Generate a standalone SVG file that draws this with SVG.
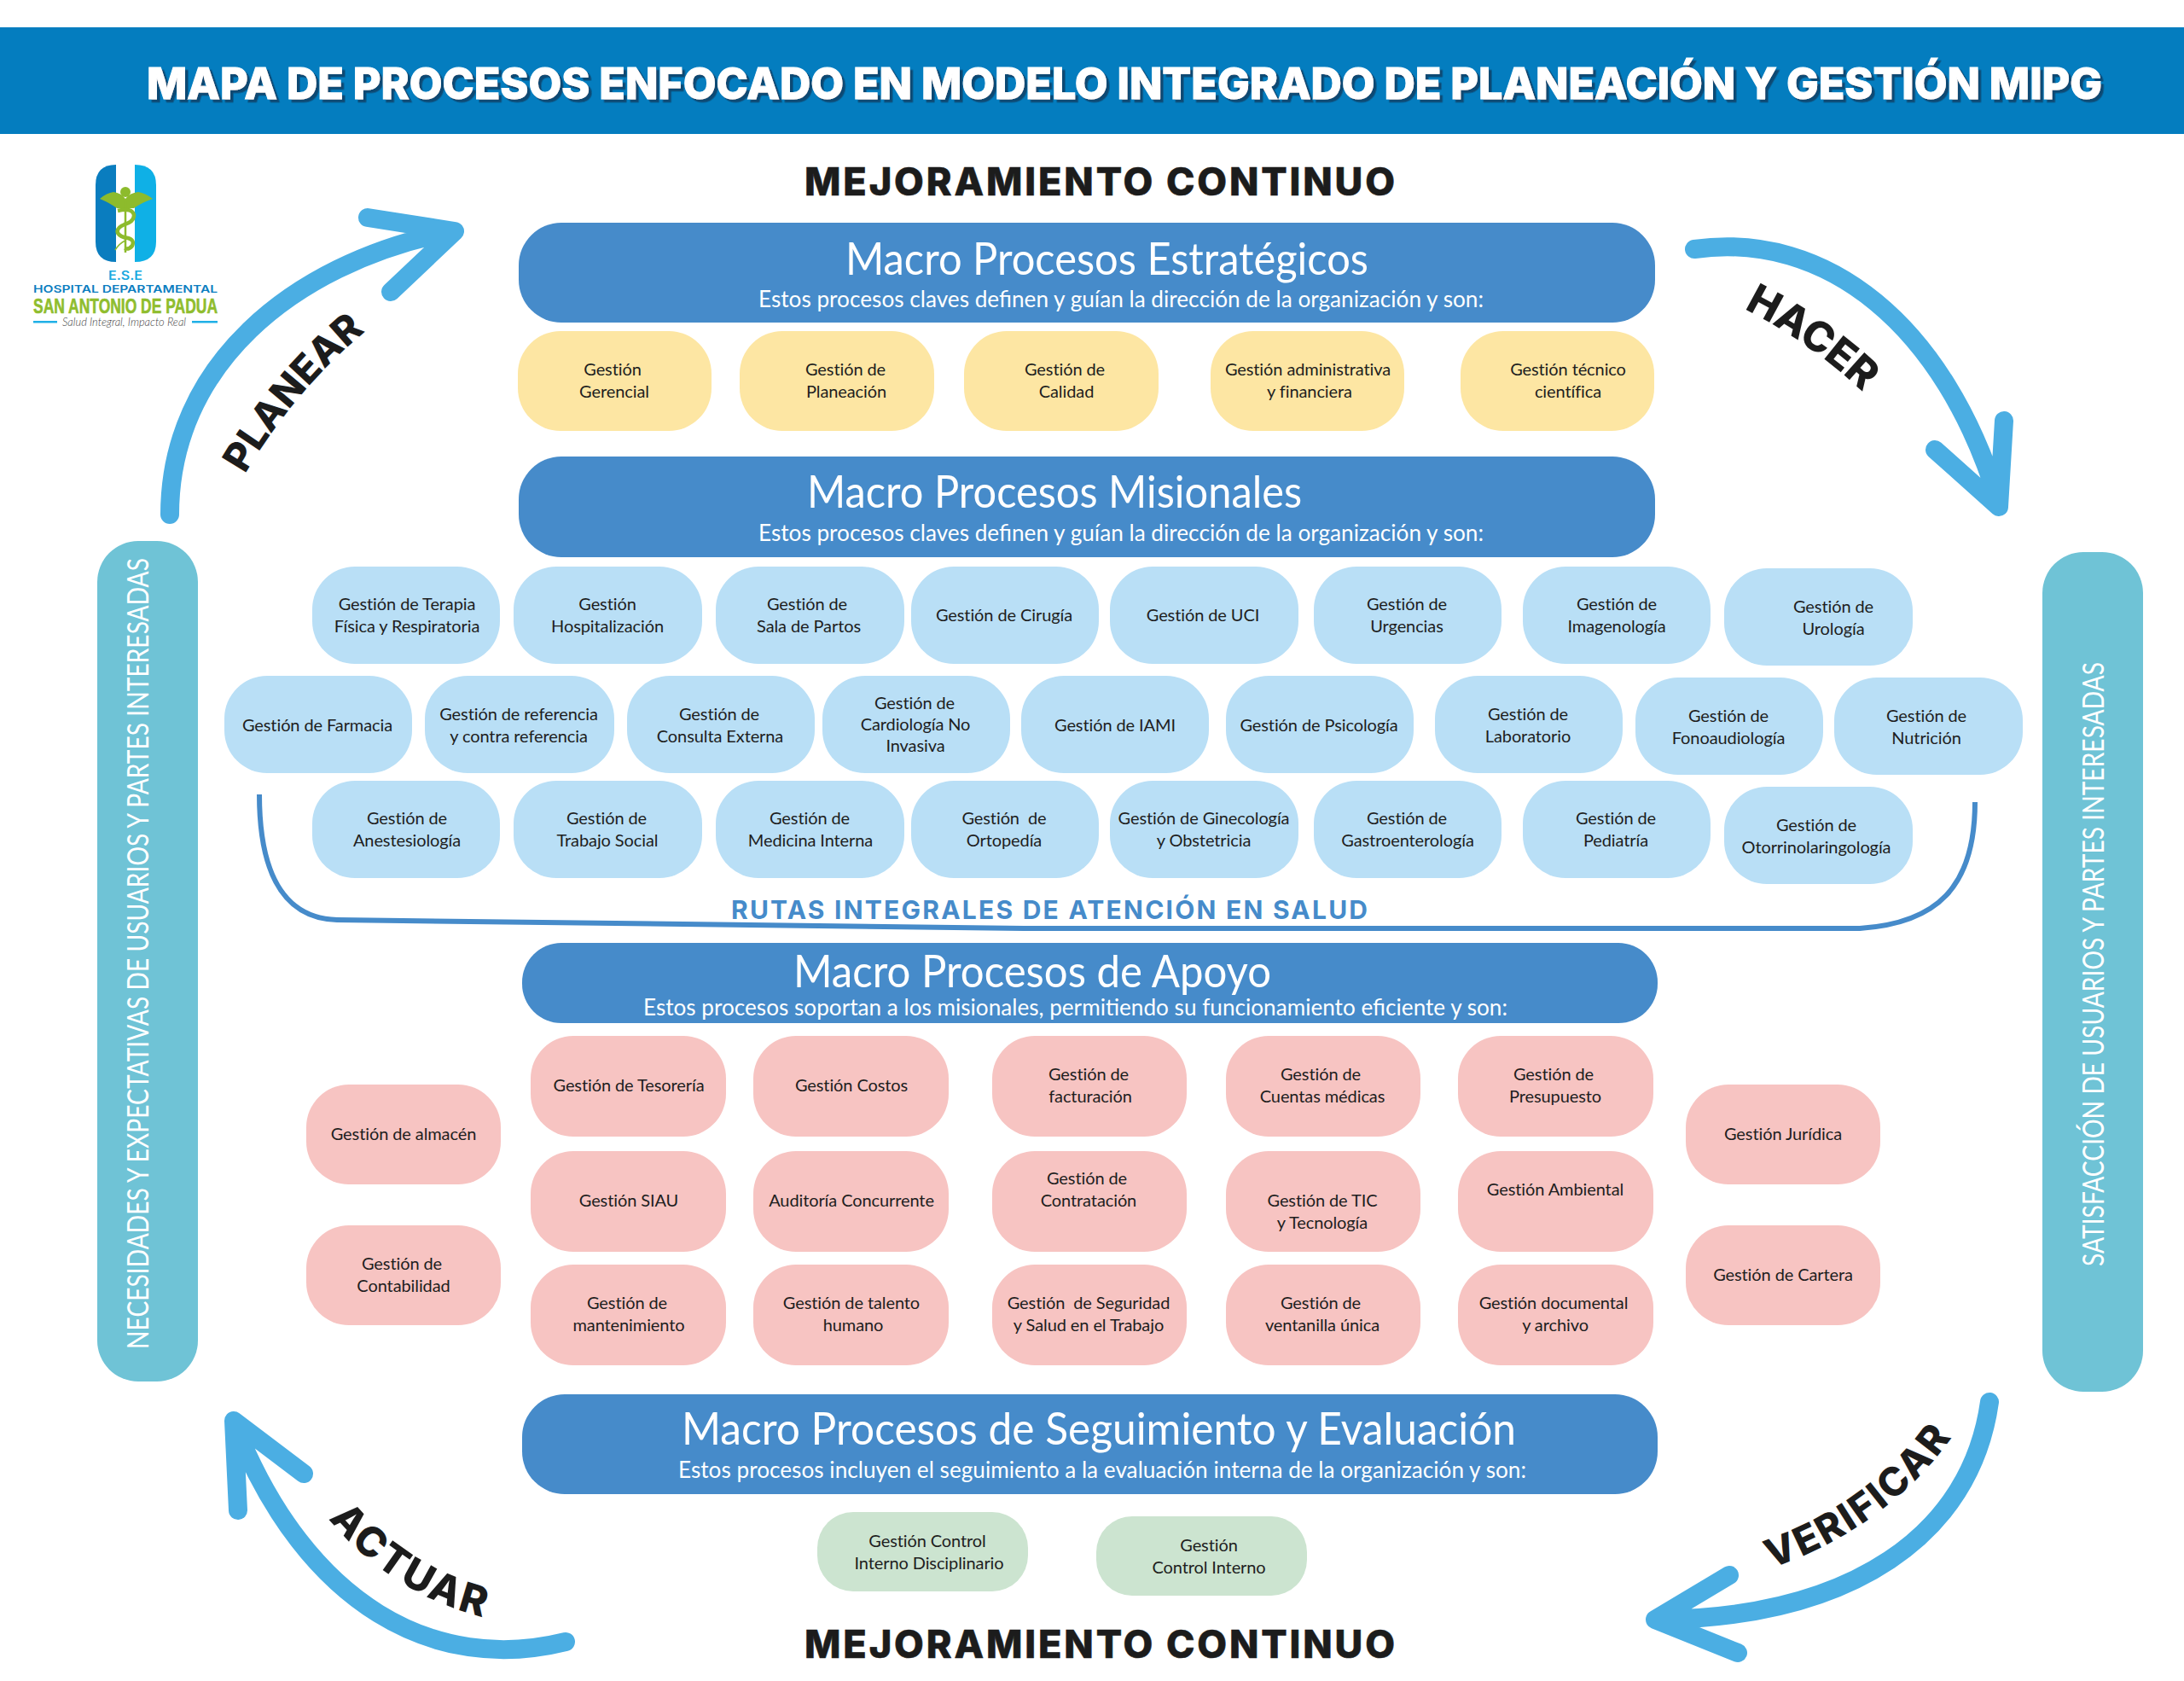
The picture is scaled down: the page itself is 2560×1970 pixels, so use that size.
<svg xmlns="http://www.w3.org/2000/svg" width="2560" height="1970" viewBox="0 0 2560 1970">
<style>
text{white-space:pre}
.n{font-family:"Lato","Open Sans",sans-serif;font-size:20px;letter-spacing:-.1px;fill:#1e1e1e;text-anchor:middle;transform:translateY(.5px)}
.y{fill:#fde6a3}.b{fill:#b9dff6}.p{fill:#f7c4c2}.g{fill:#cce4d0}
.m{fill:#468bca}.s{fill:#6fc3d6}
.mt{font-family:"Lato","Open Sans",sans-serif;font-size:52px;fill:#fff;transform:translateY(2px)}
.ms{font-family:"Lato","Open Sans",sans-serif;font-size:27px;fill:#fff;transform:translateY(.5px)}
.st{font-family:"Lato","Open Sans",sans-serif;font-size:34px;fill:#fff}
.mc{font-family:"Inter","Liberation Sans",sans-serif;font-weight:800;font-size:45px;fill:#1c1c1c;stroke:#1c1c1c;stroke-width:.6}
.lb{font-family:"Inter","Liberation Sans",sans-serif;font-weight:800;fill:#1c1c1c}
.ar{fill:none;stroke:#4baee3;stroke-width:22;stroke-linecap:round;stroke-linejoin:round}
</style>
<defs>
<filter id="sh" x="-2%" y="-20%" width="104%" height="140%"><feDropShadow dx="3.5" dy="3.5" stdDeviation="0" flood-color="#0d4a73"/></filter>
<path id="pP" d="M287 556Q342 462 424 392"/>
<path id="pH" d="M2044 362Q2120 400 2182 458"/>
<path id="pV" d="M2076 1838Q2214 1790 2291 1680"/>
<path id="pA" d="M385 1780Q460 1870 574 1897"/>
</defs>
<rect width="2560" height="1970" fill="#fff"/>
<g id="header">
<rect x="0" y="32" width="2560" height="125" fill="#047dbf"/>
<text x="172" y="116" font-family="Inter,'Liberation Sans',sans-serif" font-weight="800" font-size="51" fill="#fff" stroke="#fff" stroke-width="1" filter="url(#sh)" textLength="2292" lengthAdjust="spacingAndGlyphs">MAPA DE PROCESOS ENFOCADO EN MODELO INTEGRADO DE PLANEACIÓN Y GESTIÓN MIPG</text>
</g>
<g id="logo">
<path d="M136 193Q112 193 112 217V283Q112 307 136 307Z" fill="#0a7dbf"/>
<path d="M158 193Q183 193 183 217V283Q183 307 158 307Z" fill="#0fb0e6"/>
<circle cx="147" cy="225" r="6" fill="#8dbb2c"/>
<path d="M117 233Q125 226 133 225Q142 226 147 233Q152 226 162 225Q170 226 179 233Q165 238 157 244H137Q129 238 117 233Z" fill="#8dbb2c"/>
<path d="M147 236V296" stroke="#8dbb2c" stroke-width="2.5" fill="none"/>
<path d="M138 247Q155 243 157 252Q157 260 146 263Q136 267 138 273Q141 278 150 279Q158 281 155 288Q151 293 146 291" stroke="#8dbb2c" stroke-width="4.5" fill="none"/>
<path d="M135 293Q140 285 147 282" stroke="#8dbb2c" stroke-width="1.5" fill="none"/>
<text x="127" y="328" font-family="Inter,'Liberation Sans',sans-serif" font-weight="600" font-size="14" fill="#17a8df" textLength="40" lengthAdjust="spacingAndGlyphs">E.S.E</text>
<text x="39" y="343" font-family="Inter,'Liberation Sans',sans-serif" font-weight="600" font-size="12" fill="#0b7dc0" textLength="216" lengthAdjust="spacingAndGlyphs">HOSPITAL DEPARTAMENTAL</text>
<text x="39" y="367" font-family="'Liberation Sans',sans-serif" font-weight="700" font-size="24" fill="#8fbd2e" stroke="#8fbd2e" stroke-width=".6" textLength="216" lengthAdjust="spacingAndGlyphs">SAN ANTONIO DE PADUA</text>
<rect x="39" y="376" width="28" height="2.5" fill="#1fb0e6"/><rect x="225" y="376" width="30" height="2.5" fill="#1fb0e6"/>
<text x="73" y="382" font-family="Lato,sans-serif" font-style="italic" font-weight="300" font-size="14" fill="#444" textLength="145" lengthAdjust="spacingAndGlyphs">Salud Integral, Impacto Real</text>
</g>
<text id="mej1" class="mc" x="943" y="229" textLength="692" lengthAdjust="spacing">MEJORAMIENTO CONTINUO</text>
<text id="mej2" class="mc" x="943" y="1943" textLength="692" lengthAdjust="spacing">MEJORAMIENTO CONTINUO</text>

<g id="macro-estrategicos"><rect class="m" x="608" y="261" width="1332" height="117" rx="50"/>
<text class="mt" x="991" y="320" textLength="613" lengthAdjust="spacingAndGlyphs">Macro Procesos Estratégicos</text>
<text class="ms" x="889" y="359" textLength="850" lengthAdjust="spacingAndGlyphs">Estos procesos claves definen y guían la dirección de la organización y son:</text></g>
<g id="y1"><rect class="y" x="607" y="388" width="227" height="117" rx="50"/><text class="n" x="718" y="439">Gestión</text><text class="n" x="720" y="465">Gerencial</text></g>
<g id="y2"><rect class="y" x="867" y="388" width="228" height="117" rx="50"/><text class="n" x="991" y="439">Gestión de</text><text class="n" x="992" y="465">Planeación</text></g>
<g id="y3"><rect class="y" x="1130" y="388" width="228" height="117" rx="50"/><text class="n" x="1248" y="439">Gestión de</text><text class="n" x="1250" y="465">Calidad</text></g>
<g id="y4"><rect class="y" x="1419" y="388" width="227" height="117" rx="50"/><text class="n" x="1533" y="439">Gestión administrativa</text><text class="n" x="1535" y="465">y financiera</text></g>
<g id="y5"><rect class="y" x="1712" y="388" width="227" height="117" rx="50"/><text class="n" x="1838" y="439">Gestión técnico</text><text class="n" x="1838" y="465">científica</text></g>

<g id="macro-misionales"><rect class="m" x="608" y="535" width="1332" height="118" rx="50"/>
<text class="mt" x="946" y="593" textLength="580" lengthAdjust="spacingAndGlyphs">Macro Procesos Misionales</text>
<text class="ms" x="889" y="633" textLength="850" lengthAdjust="spacingAndGlyphs">Estos procesos claves definen y guían la dirección de la organización y son:</text></g>

<g id="b11"><rect class="b" x="366" y="664" width="220" height="114" rx="50"/><text class="n" x="477" y="714">Gestión de Terapia</text><text class="n" x="477" y="740">Física y Respiratoria</text></g>
<g id="b12"><rect class="b" x="602" y="664" width="221" height="114" rx="50"/><text class="n" x="712" y="714">Gestión</text><text class="n" x="712" y="740">Hospitalización</text></g>
<g id="b13"><rect class="b" x="839" y="664" width="221" height="114" rx="50"/><text class="n" x="946" y="714">Gestión de</text><text class="n" x="948" y="740">Sala de Partos</text></g>
<g id="b14"><rect class="b" x="1068" y="664" width="220" height="114" rx="50"/><text class="n" x="1177" y="727">Gestión de Cirugía</text></g>
<g id="b15"><rect class="b" x="1301" y="664" width="221" height="114" rx="50"/><text class="n" x="1410" y="727">Gestión de UCI</text></g>
<g id="b16"><rect class="b" x="1540" y="664" width="220" height="114" rx="50"/><text class="n" x="1649" y="714">Gestión de</text><text class="n" x="1649" y="740">Urgencias</text></g>
<g id="b17"><rect class="b" x="1785" y="664" width="220" height="114" rx="50"/><text class="n" x="1895" y="714">Gestión de</text><text class="n" x="1895" y="740">Imagenología</text></g>
<g id="b18"><rect class="b" x="2021" y="666" width="221" height="114" rx="50"/><text class="n" x="2149" y="717">Gestión de</text><text class="n" x="2149" y="743">Urología</text></g>

<g id="b21"><rect class="b" x="263" y="792" width="220" height="114" rx="50"/><text class="n" x="372" y="856">Gestión de Farmacia</text></g>
<g id="b22"><rect class="b" x="498" y="792" width="222" height="114" rx="50"/><text class="n" x="608" y="843">Gestión de referencia</text><text class="n" x="608" y="869">y contra referencia</text></g>
<g id="b23"><rect class="b" x="735" y="792" width="220" height="114" rx="50"/><text class="n" x="843" y="843">Gestión de</text><text class="n" x="844" y="869">Consulta Externa</text></g>
<g id="b24"><rect class="b" x="964" y="792" width="220" height="114" rx="50"/><text class="n" x="1072" y="830">Gestión de</text><text class="n" x="1073" y="855">Cardiología No</text><text class="n" x="1073" y="880">Invasiva</text></g>
<g id="b25"><rect class="b" x="1197" y="792" width="220" height="114" rx="50"/><text class="n" x="1307" y="856">Gestión de IAMI</text></g>
<g id="b26"><rect class="b" x="1437" y="792" width="220" height="114" rx="50"/><text class="n" x="1546" y="856">Gestión de Psicología</text></g>
<g id="b27"><rect class="b" x="1682" y="792" width="220" height="114" rx="50"/><text class="n" x="1791" y="843">Gestión de</text><text class="n" x="1791" y="869">Laboratorio</text></g>
<g id="b28"><rect class="b" x="1917" y="794" width="220" height="114" rx="50"/><text class="n" x="2026" y="845">Gestión de</text><text class="n" x="2026" y="871">Fonoaudiología</text></g>
<g id="b29"><rect class="b" x="2150" y="794" width="221" height="114" rx="50"/><text class="n" x="2258" y="845">Gestión de</text><text class="n" x="2258" y="871">Nutrición</text></g>

<g id="b31"><rect class="b" x="366" y="915" width="220" height="114" rx="50"/><text class="n" x="477" y="965">Gestión de</text><text class="n" x="477" y="991">Anestesiología</text></g>
<g id="b32"><rect class="b" x="602" y="915" width="221" height="114" rx="50"/><text class="n" x="711" y="965">Gestión de</text><text class="n" x="712" y="991">Trabajo Social</text></g>
<g id="b33"><rect class="b" x="839" y="915" width="221" height="114" rx="50"/><text class="n" x="949" y="965">Gestión de</text><text class="n" x="950" y="991">Medicina Interna</text></g>
<g id="b34"><rect class="b" x="1068" y="915" width="220" height="114" rx="50"/><text class="n" x="1177" y="965">Gestión  de</text><text class="n" x="1177" y="991">Ortopedía</text></g>
<g id="b35"><rect class="b" x="1301" y="915" width="221" height="114" rx="50"/><text class="n" x="1411" y="965">Gestión de Ginecología</text><text class="n" x="1411" y="991">y Obstetricia</text></g>
<g id="b36"><rect class="b" x="1540" y="915" width="220" height="114" rx="50"/><text class="n" x="1649" y="965">Gestión de</text><text class="n" x="1650" y="991">Gastroenterología</text></g>
<g id="b37"><rect class="b" x="1785" y="915" width="220" height="114" rx="50"/><text class="n" x="1894" y="965">Gestión de</text><text class="n" x="1894" y="991">Pediatría</text></g>
<g id="b38"><rect class="b" x="2021" y="922" width="221" height="114" rx="50"/><text class="n" x="2129" y="973">Gestión de</text><text class="n" x="2129" y="999">Otorrinolaringología</text></g>

<g id="rutas"><path d="M304 931C304 1010 325 1076 395 1078L1200 1088L2180 1088C2270 1082 2315 1040 2315 940" fill="none" stroke="#468bca" stroke-width="6"/>
<text x="857" y="1077" font-family="Inter,'Liberation Sans',sans-serif" font-weight="700" font-size="30" fill="#468bca" textLength="746" lengthAdjust="spacing">RUTAS INTEGRALES DE ATENCIÓN EN SALUD</text></g>

<g id="macro-apoyo"><rect class="m" x="612" y="1105" width="1331" height="94" rx="46"/>
<text class="mt" x="930" y="1155" textLength="560" lengthAdjust="spacingAndGlyphs">Macro Procesos de Apoyo</text>
<text class="ms" x="754" y="1189" textLength="1013" lengthAdjust="spacingAndGlyphs">Estos procesos soportan a los misionales, permitiendo su funcionamiento eficiente y son:</text></g>

<g id="p11"><rect class="p" x="622" y="1214" width="229" height="118" rx="50"/><text class="n" x="737" y="1278">Gestión de Tesorería</text></g>
<g id="p12"><rect class="p" x="883" y="1214" width="229" height="118" rx="50"/><text class="n" x="998" y="1278">Gestión Costos</text></g>
<g id="p13"><rect class="p" x="1163" y="1214" width="228" height="118" rx="50"/><text class="n" x="1276" y="1265">Gestión de</text><text class="n" x="1278" y="1291">facturación</text></g>
<g id="p14"><rect class="p" x="1437" y="1214" width="228" height="118" rx="50"/><text class="n" x="1548" y="1265">Gestión de</text><text class="n" x="1550" y="1291">Cuentas médicas</text></g>
<g id="p15"><rect class="p" x="1709" y="1214" width="229" height="118" rx="50"/><text class="n" x="1821" y="1265">Gestión de</text><text class="n" x="1823" y="1291">Presupuesto</text></g>
<g id="p21"><rect class="p" x="622" y="1349" width="229" height="118" rx="50"/><text class="n" x="737" y="1413">Gestión SIAU</text></g>
<g id="p22"><rect class="p" x="883" y="1349" width="229" height="118" rx="50"/><text class="n" x="998" y="1413">Auditoría Concurrente</text></g>
<g id="p23"><rect class="p" x="1163" y="1349" width="228" height="118" rx="50"/><text class="n" x="1274" y="1387">Gestión de</text><text class="n" x="1276" y="1413">Contratación</text></g>
<g id="p24"><rect class="p" x="1437" y="1349" width="228" height="118" rx="50"/><text class="n" x="1550" y="1413">Gestión de TIC</text><text class="n" x="1550" y="1439">y Tecnología</text></g>
<g id="p25"><rect class="p" x="1709" y="1349" width="229" height="118" rx="50"/><text class="n" x="1823" y="1400">Gestión Ambiental</text></g>
<g id="p31"><rect class="p" x="622" y="1482" width="229" height="118" rx="50"/><text class="n" x="735" y="1533">Gestión de</text><text class="n" x="737" y="1559">mantenimiento</text></g>
<g id="p32"><rect class="p" x="883" y="1482" width="229" height="118" rx="50"/><text class="n" x="998" y="1533">Gestión de talento</text><text class="n" x="1000" y="1559">humano</text></g>
<g id="p33"><rect class="p" x="1163" y="1482" width="228" height="118" rx="50"/><text class="n" x="1276" y="1533">Gestión  de Seguridad</text><text class="n" x="1276" y="1559">y Salud en el Trabajo</text></g>
<g id="p34"><rect class="p" x="1437" y="1482" width="228" height="118" rx="50"/><text class="n" x="1548" y="1533">Gestión de</text><text class="n" x="1550" y="1559">ventanilla única</text></g>
<g id="p35"><rect class="p" x="1709" y="1482" width="229" height="118" rx="50"/><text class="n" x="1821" y="1533">Gestión documental</text><text class="n" x="1823" y="1559">y archivo</text></g>
<g id="pl1"><rect class="p" x="359" y="1271" width="228" height="117" rx="50"/><text class="n" x="473" y="1335">Gestión de almacén</text></g>
<g id="pl2"><rect class="p" x="359" y="1436" width="228" height="117" rx="50"/><text class="n" x="471" y="1487">Gestión de</text><text class="n" x="473" y="1513">Contabilidad</text></g>
<g id="pr1"><rect class="p" x="1976" y="1271" width="228" height="117" rx="50"/><text class="n" x="2090" y="1335">Gestión Jurídica</text></g>
<g id="pr2"><rect class="p" x="1976" y="1436" width="228" height="117" rx="50"/><text class="n" x="2090" y="1500">Gestión de Cartera</text></g>

<g id="macro-seguimiento"><rect class="m" x="612" y="1634" width="1331" height="117" rx="50"/>
<text class="mt" x="799" y="1691" textLength="978" lengthAdjust="spacingAndGlyphs">Macro Procesos de Seguimiento y Evaluación</text>
<text class="ms" x="795" y="1731" textLength="994" lengthAdjust="spacingAndGlyphs">Estos procesos incluyen el seguimiento a la evaluación interna de la organización y son:</text></g>
<g id="g1"><rect class="g" x="958" y="1772" width="247" height="93" rx="42"/><text class="n" x="1087" y="1812">Gestión Control</text><text class="n" x="1089" y="1838">Interno Disciplinario</text></g>
<g id="g2"><rect class="g" x="1285" y="1777" width="247" height="93" rx="42"/><text class="n" x="1417" y="1817">Gestión</text><text class="n" x="1417" y="1843">Control Interno</text></g>

<g id="side-left"><rect class="s" x="114" y="634" width="118" height="985" rx="48"/>
<text class="st" transform="translate(174 1581) rotate(-90)" textLength="927" lengthAdjust="spacingAndGlyphs">NECESIDADES Y EXPECTATIVAS DE USUARIOS Y PARTES INTERESADAS</text></g>
<g id="side-right"><rect class="s" x="2394" y="647" width="118" height="984" rx="48"/>
<text class="st" transform="translate(2466 1484) rotate(-90)" textLength="708" lengthAdjust="spacingAndGlyphs">SATISFACCIÓN DE USUARIOS Y PARTES INTERESADAS</text></g>

<g id="connectors">
<path class="ar" d="M199 603C199 430 340 310 525 272M431 255L533 271L458 342"/>
<path class="ar" d="M1986 292C2140 270 2280 380 2343 590M2349 493L2343 594L2268 527"/>
<path class="ar" d="M2332 1643C2310 1800 2170 1895 1945 1898M2027 1846L1940 1898L2037 1937"/>
<path class="ar" d="M663 1924C510 1962 360 1882 276 1672M279 1770L274 1665L356 1727"/>
<text class="lb" font-size="46"><textPath href="#pP">PLANEAR</textPath></text>
<text class="lb" font-size="49"><textPath href="#pH">HACER</textPath></text>
<text class="lb" font-size="46" letter-spacing="2.5"><textPath href="#pV">VERIFICAR</textPath></text>
<text class="lb" font-size="48" letter-spacing="2.5"><textPath href="#pA">ACTUAR</textPath></text>
</g>
</svg>
